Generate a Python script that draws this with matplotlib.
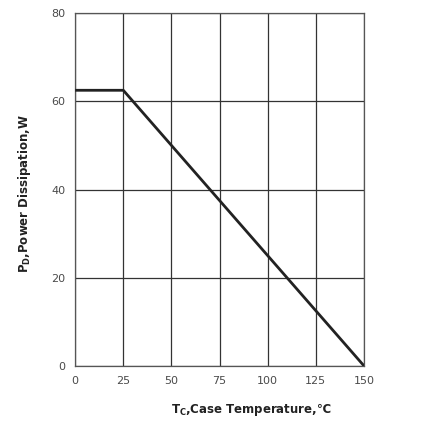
import matplotlib
matplotlib.use("Agg")
import matplotlib.pyplot as plt

# derating curve
temp_c = [0, 25, 150]
power_w = [62.5, 62.5, 0]

x_ticks = [0, 25, 50, 75, 100, 125, 150]
y_ticks = [0, 20, 40, 60, 80]

plt.rcParams['font.family'] = ['DejaVu Sans', 'Noto Sans CJK SC']

fig = plt.figure(figsize=(4.37, 4.23), dpi=100)
ax = fig.add_axes([0.172, 0.135, 0.661, 0.834])

ax.plot(temp_c, power_w, color='#222222', lw=2.0, solid_capstyle='butt', zorder=3)

ax.set_xlim(0, 150)
ax.set_ylim(0, 80)
ax.set_xticks(x_ticks)
ax.set_yticks(y_ticks)
ax.grid(True, color='#333333', lw=0.9)
ax.tick_params(length=0, labelsize=8, labelcolor='#4a4a4a', pad=7)
for s in ax.spines.values():
    s.set_color('#555555')
    s.set_linewidth(0.9)

ax.set_xlabel(r'T$_\mathregular{C}$,Case Temperature,℃', fontsize=8.5,
              fontweight='bold', color='#222222', labelpad=11)
ax.xaxis.label.set_x(0.61)
ax.set_ylabel(r'P$_\mathregular{D}$,Power Dissipation,W', fontsize=8.5,
              fontweight='bold', color='#222222', labelpad=13)
ax.yaxis.label.set_y(0.49)

fig.savefig('out.png', dpi=100)
